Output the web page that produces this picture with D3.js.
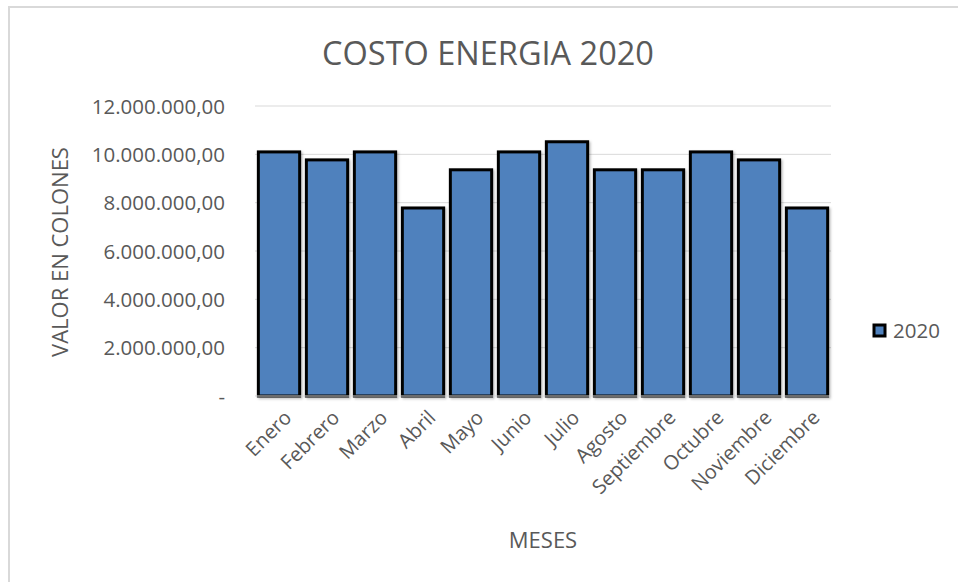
<!DOCTYPE html>
<html>
<head>
<meta charset="utf-8">
<script src="https://cdn.jsdelivr.net/npm/d3@7"></script>
<style>
  html, body { margin: 0; padding: 0; background: #fff; }
  svg { display: block; }
  text { font-family: "Open Sans", "Noto Sans", sans-serif; fill: #595959; }
</style>
</head>
<body>
<svg id="chart" width="958" height="582"></svg>
<script>
const title = "COSTO ENERGIA 2020";
const months = ["Enero","Febrero","Marzo","Abril","Mayo","Junio","Julio","Agosto","Septiembre","Octubre","Noviembre","Diciembre"];
const values2020 = [10100000, 9770000, 10100000, 7780000, 9360000, 10100000, 10520000, 9360000, 9360000, 10100000, 9770000, 7780000];
const yTicks = [0, 2000000, 4000000, 6000000, 8000000, 10000000, 12000000];
const seriesName = "2020";
const xTitle = "MESES";
const yTitle = "VALOR EN COLONES";

const svg = d3.select("#chart");

// chart border
svg.append("rect").attr("x", 9).attr("y", 7).attr("width", 980).attr("height", 600)
  .attr("fill", "none").attr("stroke", "#d9d9d9").attr("stroke-width", 2);

const x = d3.scaleBand().domain(months).range([255, 831]).paddingInner(0.14).paddingOuter(0.07);
const y = d3.scaleLinear().domain([0, 12000000]).range([396, 106]);

const fmt = v => v === 0 ? "-" : d3.format(",.2f")(v).replace(/,/g, "#").replace(/\./g, ",").replace(/#/g, ".");

// gridlines
svg.append("g").selectAll("line").data(yTicks.filter(d => d > 0)).join("line")
  .attr("x1", 255).attr("x2", 831)
  .attr("y1", d => y(d)).attr("y2", d => y(d))
  .attr("stroke", "#d9d9d9").attr("stroke-width", 1);

// y axis labels
const yAxis = svg.append("g").attr("transform", "translate(235,0)")
  .call(d3.axisLeft(y).tickValues(yTicks).tickFormat(fmt).tickSize(0).tickPadding(10));
yAxis.select(".domain").remove();
yAxis.selectAll("text").style("font-size", "20.5px").attr("fill", "#595959")
  .attr("dy", "0.35em");

// shadow filter
const defs = svg.append("defs");
const f = defs.append("filter").attr("id", "sh").attr("x", "-20%").attr("y", "-20%").attr("width", "140%").attr("height", "140%");
f.append("feDropShadow").attr("dx", 1.5).attr("dy", 1.5).attr("stdDeviation", 1.2).attr("flood-color", "#000").attr("flood-opacity", 0.25);

// bars
svg.append("g").selectAll("rect").data(months.map((m, i) => ({m, v: values2020[i]}))).join("rect")
  .attr("x", d => x(d.m)).attr("width", x.bandwidth())
  .attr("y", d => y(d.v)).attr("height", d => y(0) - y(d.v))
  .attr("fill", "#4f81bd").attr("stroke", "#000").attr("stroke-width", 3)
  .attr("filter", "url(#sh)");

// x axis line
svg.append("line").attr("x1", 255).attr("x2", 831).attr("y1", y(0)).attr("y2", y(0))
  .attr("stroke", "#d9d9d9").attr("stroke-width", 1);

// x labels
const xAxis = svg.append("g").attr("transform", `translate(0,${y(0)})`)
  .call(d3.axisBottom(x).tickSize(0).tickPadding(0));
xAxis.select(".domain").remove();
xAxis.selectAll("text")
  .style("font-size", "20px").attr("fill", "#595959")
  .attr("text-anchor", "end").attr("dy", null).attr("y", 0)
  .attr("transform", "translate(2,11) rotate(-45)")
  .attr("dominant-baseline", "hanging");

// title
svg.append("text").attr("x", 488).attr("y", 65).attr("text-anchor", "middle")
  .style("font-size", "32.5px").text(title);

// axis titles
svg.append("text").attr("x", 543).attr("y", 548).attr("text-anchor", "middle")
  .style("font-size", "22px").text(xTitle);
svg.append("text").attr("transform", "translate(68,252) rotate(-90)").attr("text-anchor", "middle")
  .style("font-size", "22px").text(yTitle);

// legend
const lg = svg.append("g").attr("transform", "translate(874,325)");
lg.append("rect").attr("x", 0).attr("y", 0).attr("width", 11).attr("height", 11)
  .attr("fill", "#4f81bd").attr("stroke", "#000").attr("stroke-width", 3);
lg.append("text").attr("x", 19).attr("y", 6).attr("dy", "0.35em").style("font-size", "20.5px").text(seriesName);
</script>
</body>
</html>
